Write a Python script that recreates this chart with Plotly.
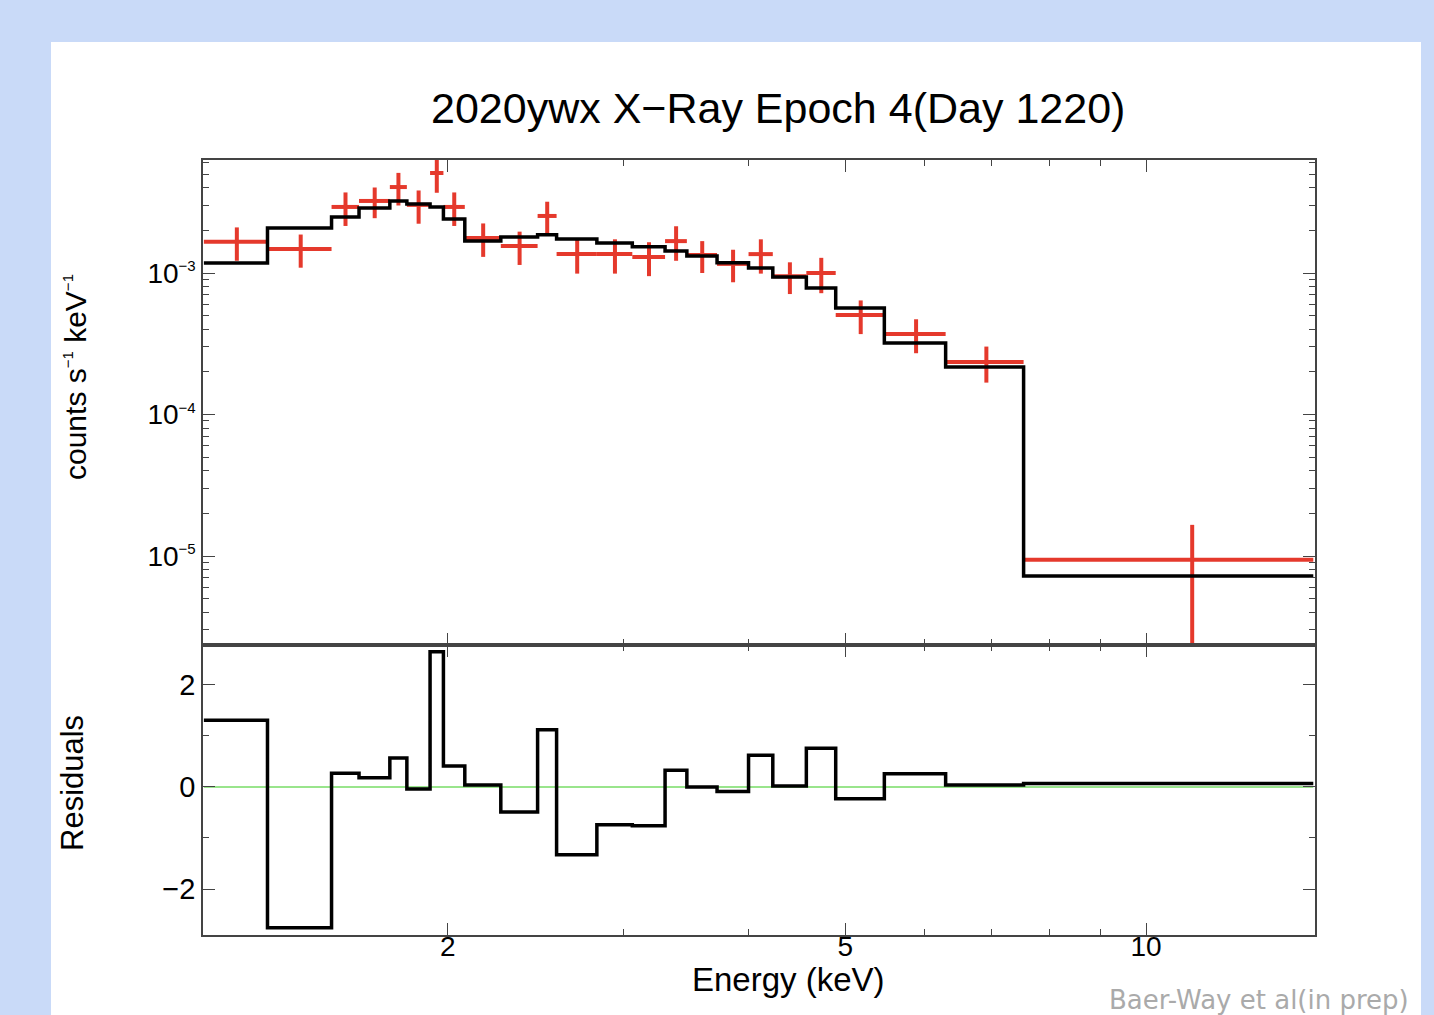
import plotly.graph_objects as go

# ---- data ----
energy_edges = [1.14, 1.32, 1.53, 1.63, 1.75, 1.82, 1.92, 1.98, 2.08, 2.26, 2.46, 2.57,
                2.82, 3.06, 3.30, 3.47, 3.72, 4.00, 4.23, 4.57, 4.89, 5.47, 6.30, 7.54, 14.7]
rate = [1.66e-3, 1.48e-3, 2.93e-3, 3.23e-3, 4.05e-3, 3.03e-3, 5.09e-3, 2.93e-3,
        1.77e-3, 1.55e-3, 2.53e-3, 1.36e-3, 1.36e-3, 1.30e-3, 1.68e-3, 1.34e-3,
        1.16e-3, 1.36e-3, 0.95e-3, 1.00e-3, 0.505e-3, 0.371e-3, 0.235e-3, 0.94e-5]
rate_err = [0.44e-3, 0.39e-3, 0.78e-3, 0.79e-3, 1.05e-3, 0.80e-3, 1.40e-3, 0.78e-3,
            0.47e-3, 0.41e-3, 0.66e-3, 0.37e-3, 0.37e-3, 0.35e-3, 0.46e-3, 0.34e-3,
            0.30e-3, 0.37e-3, 0.24e-3, 0.28e-3, 0.135e-3, 0.10e-3, 0.067e-3, 0.72e-5]
model = [1.177e-3, 2.08e-3, 2.49e-3, 2.88e-3, 3.23e-3, 3.07e-3, 2.93e-3, 2.41e-3,
         1.68e-3, 1.80e-3, 1.86e-3, 1.74e-3, 1.63e-3, 1.53e-3, 1.43e-3, 1.32e-3,
         1.18e-3, 1.085e-3, 0.937e-3, 0.783e-3, 0.566e-3, 0.320e-3, 0.217e-3, 0.722e-5]
residuals = [1.31, -2.76, 0.27, 0.18, 0.57, -0.04, 2.65, 0.41, 0.04, -0.49, 1.12, -1.33,
             -0.74, -0.76, 0.33, 0.0, -0.09, 0.62, 0.02, 0.76, -0.23, 0.26, 0.04, 0.07]

x_major = [2, 5, 10]
x_minor = [3, 4, 6, 7, 8, 9]
y_major = [1e-5, 1e-4, 1e-3]
y_major_exp = ["−5", "−4", "−3"]
y_minor = [m * 10.0 ** p for p in (-6, -5, -4, -3) for m in range(2, 10)]
r_major = [-2, 0, 2]
r_minor = [-1, 1]

title_text = "2020ywx X−Ray Epoch 4(Day 1220)"
credit_text = "Baer-Way et al(in prep)"

# ---- derived ----
lo = energy_edges[:-1]
hi = energy_edges[1:]
centers = [(a + b) / 2 for a, b in zip(lo, hi)]
half_w = [(b - a) / 2 for a, b in zip(lo, hi)]
y_major_text = ["10<sup><span style='font-size:15px'>%s</span></sup>" % e for e in y_major_exp]
sup1 = "<sup><span style='font-size:15px'>−1</span></sup>"

RED = "#e5392c"
BLACK = "#000000"
AXC = "#444444"
FONT = "Liberation Sans, Arial, sans-serif"

fig = go.Figure()

# data crosses
fig.add_trace(go.Scatter(
    x=centers, y=rate, mode="markers", marker=dict(size=0.1, color=RED),
    error_x=dict(type="data", array=half_w, color=RED, thickness=4, width=0),
    error_y=dict(type="data", array=rate_err, color=RED, thickness=4, width=0),
    xaxis="x", yaxis="y", showlegend=False, hoverinfo="skip"))

# model step
fig.add_trace(go.Scatter(
    x=energy_edges, y=model + [model[-1]], mode="lines", line_shape="hv",
    line=dict(color=BLACK, width=3.5), xaxis="x", yaxis="y", showlegend=False))

# zero line
fig.add_trace(go.Scatter(
    x=[energy_edges[0], energy_edges[-1]], y=[0, 0], mode="lines",
    line=dict(color="#77dd66", width=1.5), xaxis="x2", yaxis="y2", showlegend=False))

# residual step
fig.add_trace(go.Scatter(
    x=energy_edges, y=residuals + [residuals[-1]], mode="lines", line_shape="hv",
    line=dict(color=BLACK, width=3.5), xaxis="x2", yaxis="y2", showlegend=False))

# geometry
L, R, T, B = 203, 1315, 160, 935
W, H = 1434, 1015
split = 645
pw, ph = R - L, B - T


def px(x):
    return (x - L) / pw


def py(y):
    return (B - y) / ph


xr = [0.05603, 1.16903]
common_x = dict(type="log", range=xr, showgrid=False, zeroline=False,
                showline=True, linecolor=AXC, linewidth=1.5, mirror="allticks",
                ticks="inside", ticklen=12, tickwidth=1.3, tickcolor=AXC,
                tickmode="array", tickvals=x_major, ticktext=[str(v) for v in x_major],
                minor=dict(tickmode="array", tickvals=x_minor, ticks="inside",
                           ticklen=6, tickwidth=1.3, tickcolor=AXC, showgrid=False),
                tickfont=dict(family=FONT, size=28, color="black"))

fig.update_layout(
    width=W, height=H,
    margin=dict(l=L, r=W - R, t=T, b=H - B),
    paper_bgcolor="#c9daf8", plot_bgcolor="white",
    xaxis=dict(common_x, anchor="y", showticklabels=False),
    xaxis2=dict(common_x, anchor="y2", matches="x", showticklabels=True,
                ticklabelstandoff=-14),
    yaxis=dict(type="log", range=[-5.629, -2.2014], domain=[py(split), 1],
               showgrid=False, zeroline=False, showline=True, linecolor=AXC,
               linewidth=1.5, mirror="allticks", ticks="inside", ticklen=12,
               tickwidth=1.3, tickcolor=AXC, tickmode="array", tickvals=y_major,
               ticktext=y_major_text, anchor="x",
               minor=dict(tickmode="array", tickvals=y_minor, ticks="inside",
                          ticklen=6, tickwidth=1.3, tickcolor=AXC, showgrid=False),
               tickfont=dict(family=FONT, size=28, color="black")),
    yaxis2=dict(range=[-2.902, 2.784], domain=[0, py(split)], showgrid=False,
                zeroline=False, showline=True, linecolor=AXC, linewidth=1.5,
                mirror="allticks", ticks="inside", ticklen=12, tickwidth=1.3,
                tickcolor=AXC, tickmode="array", tickvals=r_major,
                ticktext=[str(v).replace("-", "−") for v in r_major], anchor="x2",
                minor=dict(tickmode="array", tickvals=r_minor, ticks="inside",
                           ticklen=6, tickwidth=1.3, tickcolor=AXC, showgrid=False),
                tickfont=dict(family=FONT, size=29, color="black")),
    shapes=[dict(type="rect", xref="paper", yref="paper", layer="below",
                 x0=px(51), x1=px(1421), y0=py(1100), y1=py(42),
                 fillcolor="white", line=dict(width=0))],
    annotations=[
        dict(text=title_text, x=px(778), y=py(108), xref="paper", yref="paper",
             showarrow=False, xanchor="center", yanchor="middle",
             font=dict(family=FONT, size=43, color="black")),
        dict(text="counts s" + sup1 + " keV" + sup1, x=px(75), y=py(377),
             xref="paper", yref="paper", showarrow=False, textangle=-90,
             xanchor="center", yanchor="middle",
             font=dict(family=FONT, size=30, color="black")),
        dict(text="Residuals", x=px(72), y=py(783), xref="paper", yref="paper",
             showarrow=False, textangle=-90, xanchor="center", yanchor="middle",
             font=dict(family=FONT, size=31, color="black")),
        dict(text="Energy (keV)", x=px(788), y=py(979), xref="paper", yref="paper",
             showarrow=False, xanchor="center", yanchor="middle",
             font=dict(family=FONT, size=33, color="black")),
        dict(text=credit_text, x=px(1259), y=py(1000), xref="paper", yref="paper",
             showarrow=False, xanchor="center", yanchor="middle",
             font=dict(family="DejaVu Sans, sans-serif", size=26, color="#aaaaaa")),
    ],
)

fig.write_html("out.html", config={"displayModeBar": False},
               post_script="document.body.style.margin='0';document.body.style.overflow='hidden';")
